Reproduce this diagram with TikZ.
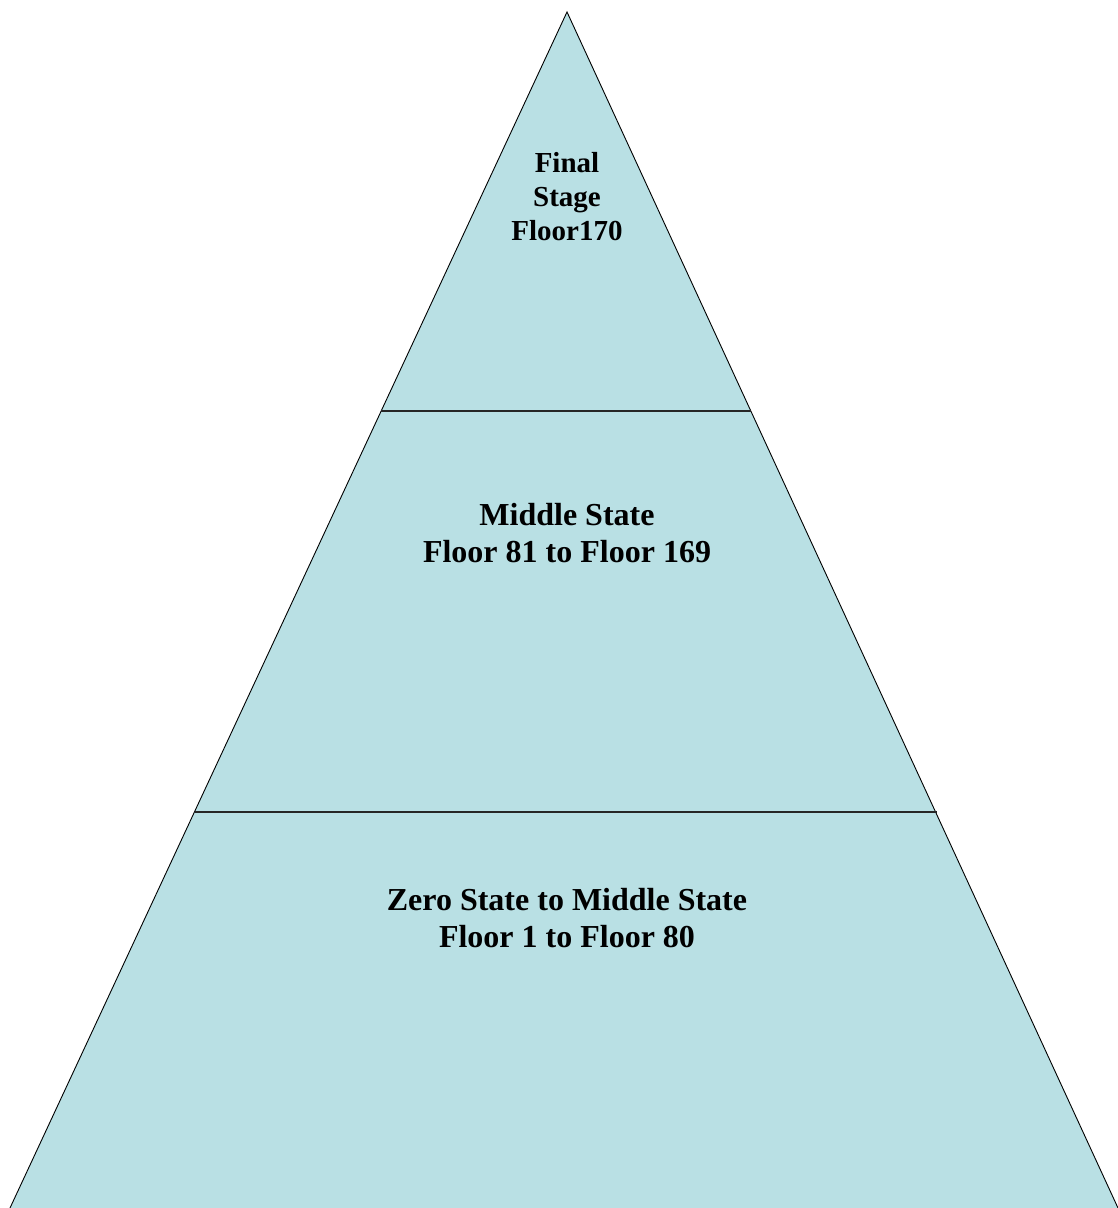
\documentclass[tikz,border=0pt]{standalone}
\usepackage{fontspec}
\setmainfont{Liberation Serif}
\definecolor{pyrfill}{HTML}{B9E0E4}
\begin{document}
\begin{tikzpicture}[x=1pt,y=1pt,
  lbl/.style={align=center,font=\bfseries\fontsize{32}{37.5}\selectfont,inner sep=0pt},
  lbltop/.style={align=center,font=\bfseries\fontsize{29}{34}\selectfont,inner sep=0pt},
  divider/.style={line width=1.4pt,black!85}]
\useasboundingbox (0,0) rectangle (1117,1208);
\coordinate (apex) at (567,1196);
\coordinate (bl) at (10,0);
\coordinate (br) at (1118,0);
\fill[pyrfill] (apex) -- (bl) -- (br) -- cycle;
\draw[line width=0.9pt,black] (bl) -- (apex) -- (br);
\coordinate (l1) at (381,797);
\coordinate (r1) at (751,797);
\coordinate (l2) at (194.5,396);
\coordinate (r2) at (936.5,396);
\draw[divider] (l1) -- (r1);
\draw[divider] (l2) -- (r2);
\node[lbltop] (top) at (567,1011) {Final\\Stage\\Floor170};
\node[lbl] (mid) at (567,675) {Middle State\\Floor 81 to Floor 169};
\node[lbl] (bot) at (567,290) {Zero State to Middle State\\Floor 1 to Floor 80};
\end{tikzpicture}
\end{document}
